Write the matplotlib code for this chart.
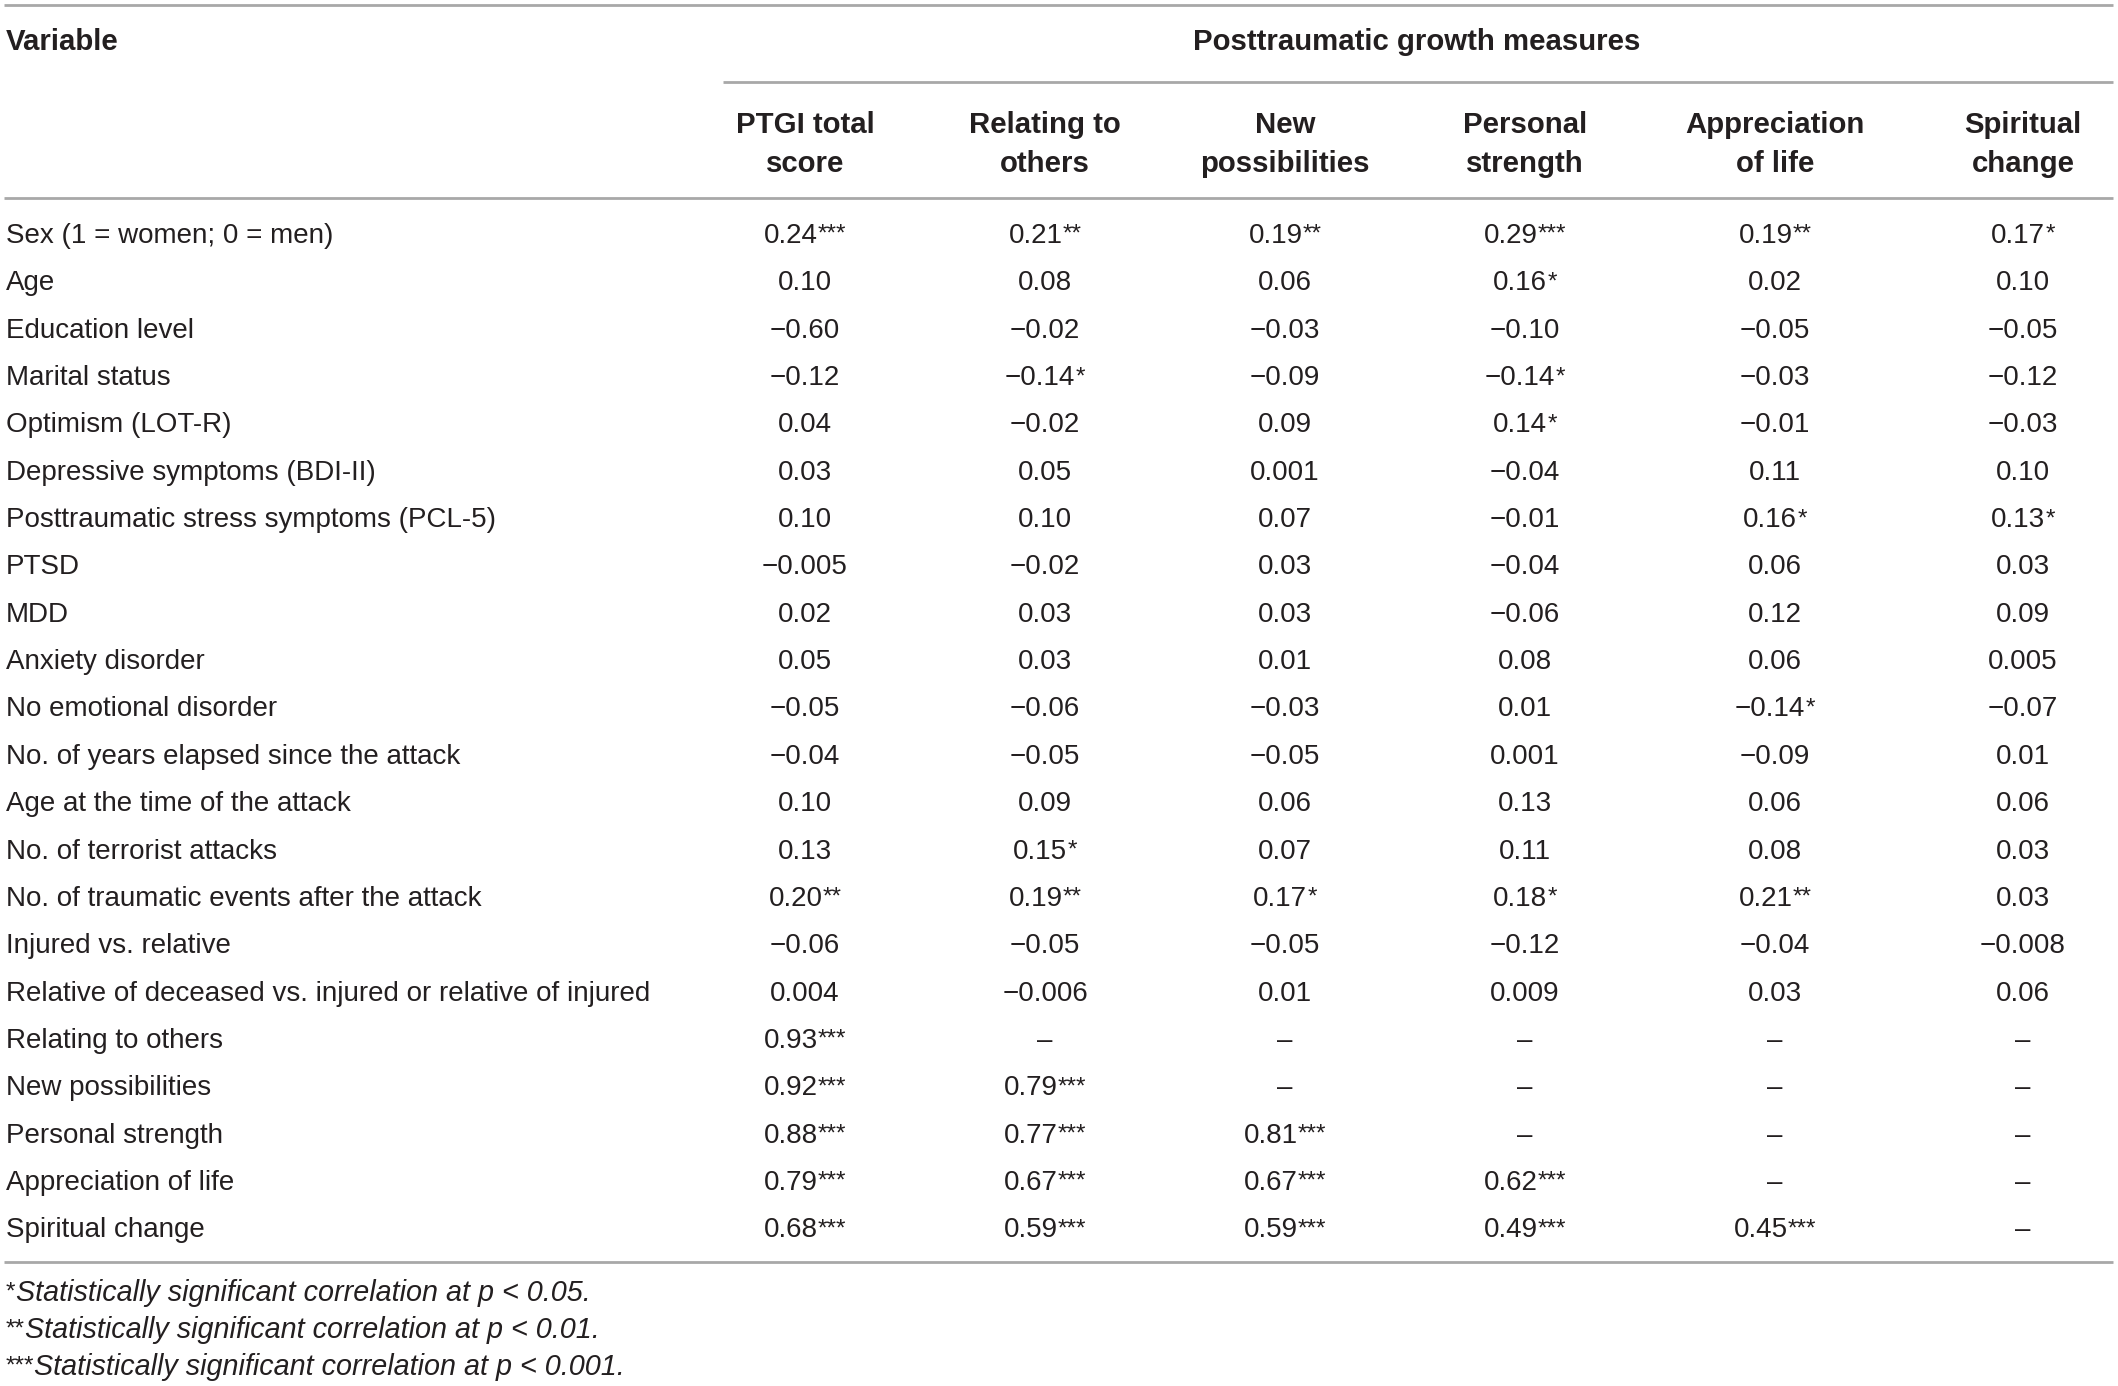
import matplotlib
matplotlib.use("Agg")
import matplotlib.pyplot as plt

W, H = 2118, 1386
DPI = 100

# ---------------- data ----------------
spanner = "Posttraumatic growth measures"
stub_header = "Variable"
col_headers = [("PTGI total", "score"), ("Relating to", "others"), ("New", "possibilities"),
               ("Personal", "strength"), ("Appreciation", "of life"), ("Spiritual", "change")]

row_labels = [
    "Sex (1 = women; 0 = men)", "Age", "Education level", "Marital status",
    "Optimism (LOT-R)", "Depressive symptoms (BDI-II)",
    "Posttraumatic stress symptoms (PCL-5)", "PTSD", "MDD", "Anxiety disorder",
    "No emotional disorder", "No. of years elapsed since the attack",
    "Age at the time of the attack", "No. of terrorist attacks",
    "No. of traumatic events after the attack", "Injured vs. relative",
    "Relative of deceased vs. injured or relative of injured",
    "Relating to others", "New possibilities", "Personal strength",
    "Appreciation of life", "Spiritual change",
]

ptgi_total = ["0.24***", "0.10", "−0.60", "−0.12", "0.04", "0.03", "0.10", "−0.005", "0.02",
              "0.05", "−0.05", "−0.04", "0.10", "0.13", "0.20**", "−0.06", "0.004",
              "0.93***", "0.92***", "0.88***", "0.79***", "0.68***"]
relating = ["0.21**", "0.08", "−0.02", "−0.14*", "−0.02", "0.05", "0.10", "−0.02", "0.03",
            "0.03", "−0.06", "−0.05", "0.09", "0.15*", "0.19**", "−0.05", "−0.006",
            "–", "0.79***", "0.77***", "0.67***", "0.59***"]
new_poss = ["0.19**", "0.06", "−0.03", "−0.09", "0.09", "0.001", "0.07", "0.03", "0.03",
            "0.01", "−0.03", "−0.05", "0.06", "0.07", "0.17*", "−0.05", "0.01",
            "–", "–", "0.81***", "0.67***", "0.59***"]
personal = ["0.29***", "0.16*", "−0.10", "−0.14*", "0.14*", "−0.04", "−0.01", "−0.04", "−0.06",
            "0.08", "0.01", "0.001", "0.13", "0.11", "0.18*", "−0.12", "0.009",
            "–", "–", "–", "0.62***", "0.49***"]
appreciation = ["0.19**", "0.02", "−0.05", "−0.03", "−0.01", "0.11", "0.16*", "0.06", "0.12",
                "0.06", "−0.14*", "−0.09", "0.06", "0.08", "0.21**", "−0.04", "0.03",
                "–", "–", "–", "–", "0.45***"]
spiritual = ["0.17*", "0.10", "−0.05", "−0.12", "−0.03", "0.10", "0.13*", "0.03", "0.09",
             "0.005", "−0.07", "0.01", "0.06", "0.03", "0.03", "−0.008", "0.06",
             "–", "–", "–", "–", "–"]
columns = [ptgi_total, relating, new_poss, personal, appreciation, spiritual]

footnote_marks = ["*", "**", "***"]
footnote_texts = ["Statistically significant correlation at p < 0.05.",
                  "Statistically significant correlation at p < 0.01.",
                  "Statistically significant correlation at p < 0.001."]

# ---------------- layout ----------------
FAM = ["Liberation Sans", "DejaVu Sans"]
TXT = "#231f20"
LINE = "#a8a8a8"

col_x = [805, 1045, 1285, 1525, 1775, 2023]
left_x = 6
row_y0, row_dy = 243, 47.35
line_x0, line_x1 = 4, 2113

fig = plt.figure(figsize=(W / DPI, H / DPI), dpi=DPI)
fig.patch.set_facecolor("white")
ax = fig.add_axes([0, 0, 1, 1])
ax.set_xlim(0, W)
ax.set_ylim(H, 0)
ax.axis("off")
renderer = fig.canvas.get_renderer()


def fit_size(s, target_px, **kw):
    t = ax.text(0, 0, s, fontsize=20, family=FAM, **kw)
    w = t.get_window_extent(renderer).width
    t.remove()
    return 20 * target_px / w


FS = fit_size(row_labels[16], 645)
FS_B = fit_size(spanner, 446, fontweight="bold")
FS_I = fit_size(footnote_texts[2], 590, style="italic")
FS_STAR = fit_size("***", 28)
STAR_RAISE = 2


def hline(y, x0=line_x0, x1=line_x1):
    ax.plot([x0, x1], [y, y], color=LINE, lw=2.0, solid_capstyle="butt")


hline(5)
hline(82, 723, line_x1)
hline(198)
hline(1262)

ax.text(left_x, 50, stub_header, fontsize=FS_B, fontweight="bold", family=FAM, color=TXT,
        ha="left", va="baseline")
ax.text(1417, 50, spanner, fontsize=FS_B, fontweight="bold", family=FAM, color=TXT,
        ha="center", va="baseline")
for cx, (l1, l2) in zip(col_x, col_headers):
    ax.text(cx, 133, l1, fontsize=FS_B, fontweight="bold", family=FAM, color=TXT,
            ha="center", va="baseline")
    ax.text(cx, 172, l2, fontsize=FS_B, fontweight="bold", family=FAM, color=TXT,
            ha="center", va="baseline")


def cell(cx, y, s):
    num = s.rstrip("*")
    stars = s[len(num):]
    t1 = ax.text(cx, y, num, fontsize=FS, family=FAM, color=TXT, ha="left", va="baseline")
    if not stars:
        t1.set_horizontalalignment("center")
        return
    t2 = ax.text(cx, y - STAR_RAISE, stars, fontsize=FS_STAR, family=FAM,
                 color=TXT, ha="left", va="baseline")
    w1 = t1.get_window_extent(renderer).width
    w2 = t2.get_window_extent(renderer).width
    x0 = cx - (w1 + w2) / 2
    t1.set_x(x0)
    t2.set_x(x0 + w1)


for i, lab in enumerate(row_labels):
    y = row_y0 + i * row_dy
    ax.text(left_x, y, lab, fontsize=FS, family=FAM, color=TXT, ha="left", va="baseline")
    for cx, col in zip(col_x, columns):
        cell(cx, y, col[i])

foot_y = [1301, 1338, 1375]
for y, m, t in zip(foot_y, footnote_marks, footnote_texts):
    tm = ax.text(left_x, y - STAR_RAISE, m, fontsize=FS_STAR, family=FAM,
                 color=TXT, ha="left", va="baseline")
    wm = tm.get_window_extent(renderer).width
    ax.text(left_x + wm, y, t, fontsize=FS_I, style="italic", family=FAM,
            color=TXT, ha="left", va="baseline")

fig.savefig("out.png", dpi=DPI, facecolor="white")
